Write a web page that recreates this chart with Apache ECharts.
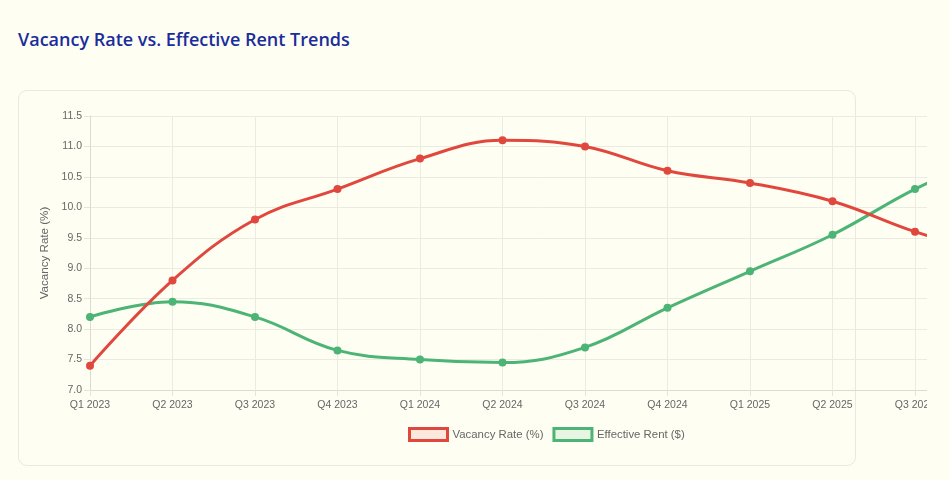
<!DOCTYPE html>
<html><head><meta charset="utf-8">
<script src="https://cdn.jsdelivr.net/npm/echarts@6/dist/echarts.min.js"></script>
<style>
html,body{margin:0;padding:0;background:#fffef2;width:950px;height:480px;overflow:hidden;}
#title{position:absolute;left:18px;top:27px;font-family:"Open Sans","Noto Sans",sans-serif;font-weight:600;font-size:18px;color:#1a2d9c;}
#card{position:absolute;left:18px;top:90px;width:836px;height:374px;border:1px solid #ece9dc;border-radius:9px;background:#fffef3;}
#wrap{position:absolute;left:0;top:0;width:927px;height:480px;overflow:hidden;}
#chart{position:absolute;left:0;top:0;width:1070px;height:480px;}
</style></head>
<body>
<div id="title">Vacancy Rate vs. Effective Rent Trends</div>
<div id="card"></div>
<div id="wrap"><div id="chart"></div></div>
<script>
const categories = ['Q1 2023','Q2 2023','Q3 2023','Q4 2023','Q1 2024','Q2 2024','Q3 2024','Q4 2024','Q1 2025','Q2 2025','Q3 2025','Q4 2025'];
const vacancyRate = [7.4, 8.8, 9.8, 10.3, 10.8, 11.1, 11.0, 10.6, 10.4, 10.1, 9.6, 9.2];
const effectiveRent = [8.2, 8.45, 8.2, 7.65, 7.5, 7.45, 7.7, 8.35, 8.95, 9.55, 10.3, 10.9];
const yTicks = {min: 7.0, max: 11.5, interval: 0.5};

const red = '#e0483e', green = '#4cb475';
const chart = echarts.init(document.getElementById('chart'), null, {renderer:'canvas'});
const lbl = {color:'#666', fontFamily:'"Liberation Sans", Arial, sans-serif', fontSize:10.5};
const lblBig = Object.assign({}, lbl, {fontSize:11.6});
chart.setOption({
  backgroundColor:'transparent',
  animation:false,
  grid:{left:90, top:116, width:907.5, height:274, containLabel:false},
  legend:{
    left:403, top:422, itemWidth:38, itemHeight:12, itemGap:9,
    textStyle:Object.assign({}, lblBig, {fontSize:11.4}),
    data:[
      {name:'Vacancy Rate (%)', icon:'rect', itemStyle:{color:'rgba(231,76,60,0.12)', borderColor:red, borderWidth:3}},
      {name:'Effective Rent ($)', icon:'rect', itemStyle:{color:'rgba(76,180,117,0.12)', borderColor:green, borderWidth:3}}
    ]
  },
  xAxis:{
    type:'category', data:categories, boundaryGap:false,
    axisLine:{lineStyle:{color:'#dcdad2'}},
    axisTick:{show:true, length:6, lineStyle:{color:'#e6e4dc'}},
    axisLabel:Object.assign({}, lbl, {margin:10, interval:0}),
    splitLine:{show:true, lineStyle:{color:'#ecebe2'}}
  },
  yAxis:{
    type:'value', min:yTicks.min, max:yTicks.max, interval:yTicks.interval,
    name:'Vacancy Rate (%)', nameLocation:'middle', nameGap:34,
    nameTextStyle:lblBig,
    axisLine:{show:true, lineStyle:{color:'#dcdad2'}},
    axisTick:{show:true, length:6, lineStyle:{color:'#e6e4dc'}},
    axisLabel:Object.assign({}, lbl, {margin:8, formatter:v=>v.toFixed(1)}),
    splitLine:{show:true, lineStyle:{color:'#ecebe2'}}
  },
  series:[
    {name:'Vacancy Rate (%)', type:'line', data:vacancyRate, smooth:0.4,
     symbol:'circle', symbolSize:8, lineStyle:{color:red, width:3}, itemStyle:{color:red}, z:3},
    {name:'Effective Rent ($)', type:'line', data:effectiveRent, smooth:0.4,
     symbol:'circle', symbolSize:8, lineStyle:{color:green, width:3}, itemStyle:{color:green}, z:2}
  ]
});
</script>
</body></html>
